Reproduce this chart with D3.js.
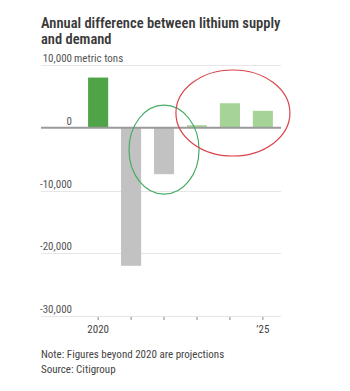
<!DOCTYPE html>
<html><head><meta charset="utf-8">
<script src="https://cdn.jsdelivr.net/npm/d3@7"></script>
<style>body{margin:0;background:#fff;} svg{display:block;}</style>
</head><body>
<script>
const years = [2020, 2021, 2022, 2023, 2024, 2025];
const values = [8000, -22000, -7400, 400, 3900, 2700];
const barColors = ["#4ea446", "#c2c2c2", "#c2c2c2", "#a5d496", "#a5d496", "#a5d496"];
const yTicks = [10000, 0, -10000, -20000, -30000];
const xLabels = {2020: "2020", 2025: "\u201925"};
const titleLines = ["Annual difference between lithium supply", "and demand"];
const notes = ["Note: Figures beyond 2020 are projections", "Source: Citigroup"];

const W = 350, H = 391;
const svg = d3.select("body").append("svg").attr("width", W).attr("height", H);
const font = "'Liberation Sans Narrow', 'Roboto Condensed', Roboto, sans-serif";

const x = d3.scaleBand().domain(years).range([81.5, 279.5]).paddingInner(0.39).paddingOuter(0.2);
const y = d3.scaleLinear().domain([-30000, 10000]).range([316, 65]);
const left = 41, right = 281;

svg.selectAll("text.title").data(titleLines).join("text")
  .attr("x", 41).attr("y", (d, i) => 28 + i * 16)
  .attr("font-family", font).attr("font-weight", 600).attr("font-size", 14.5)
  .attr("fill", "#3a3a3a").text(d => d);

// gridlines
svg.selectAll("line.grid").data(yTicks.filter(d => d !== 0)).join("line")
  .attr("x1", left).attr("x2", right)
  .attr("y1", d => Math.round(y(d)) + 0.5).attr("y2", d => Math.round(y(d)) + 0.5)
  .attr("stroke", "#e6e6e6").attr("stroke-width", 1);

// tick labels
svg.selectAll("text.yl").data(yTicks).join("text")
  .attr("x", 72).attr("y", d => y(d) - 3)
  .attr("text-anchor", "end")
  .attr("font-family", font).attr("font-size", 11).attr("fill", "#555")
  .text(d => d3.format(",")(d).replace("\u2212", "-"));
svg.append("text").attr("x", 74).attr("y", y(10000) - 3)
  .attr("font-family", font).attr("font-size", 11).attr("fill", "#555")
  .text("metric tons");

// bars
svg.selectAll("rect.bar").data(values).join("rect")
  .attr("x", (d, i) => x(years[i]))
  .attr("width", x.bandwidth())
  .attr("y", d => y(Math.max(0, d)))
  .attr("height", d => Math.abs(y(d) - y(0)))
  .attr("fill", (d, i) => barColors[i]);

// zero line
svg.append("line").attr("x1", left).attr("x2", right)
  .attr("y1", y(0)).attr("y2", y(0))
  .attr("stroke", "#9a9a9a").attr("stroke-width", 2);

// bottom ticks
svg.selectAll("line.xt").data(years).join("line")
  .attr("x1", d => x(d) + x.bandwidth() / 2).attr("x2", d => x(d) + x.bandwidth() / 2)
  .attr("y1", y(-30000) + 1).attr("y2", y(-30000) + 4)
  .attr("stroke", "#888").attr("stroke-width", 1);
svg.selectAll("text.xl").data(years.filter(d => xLabels[d])).join("text")
  .attr("x", d => x(d) + x.bandwidth() / 2).attr("y", 333)
  .attr("text-anchor", "middle")
  .attr("font-family", font).attr("font-size", 11).attr("fill", "#444")
  .text(d => xLabels[d]);

// annotation ellipses
svg.append("ellipse").attr("cx", x(2022) + x.bandwidth() / 2).attr("cy", y(-3500))
  .attr("rx", 35).attr("ry", 44.5)
  .attr("fill", "none").attr("stroke", "#45ad63").attr("stroke-width", 1.2);
svg.append("ellipse").attr("cx", x(2024) + x.bandwidth() / 2 + 3).attr("cy", y(2350))
  .attr("rx", 57).attr("ry", 43)
  .attr("fill", "none").attr("stroke", "#d9434b").attr("stroke-width", 1.2);

svg.selectAll("text.note").data(notes).join("text")
  .attr("x", 41).attr("y", (d, i) => 358 + i * 14.5)
  .attr("font-family", font).attr("font-size", 11).attr("fill", "#444")
  .text(d => d);
</script>
</body></html>
